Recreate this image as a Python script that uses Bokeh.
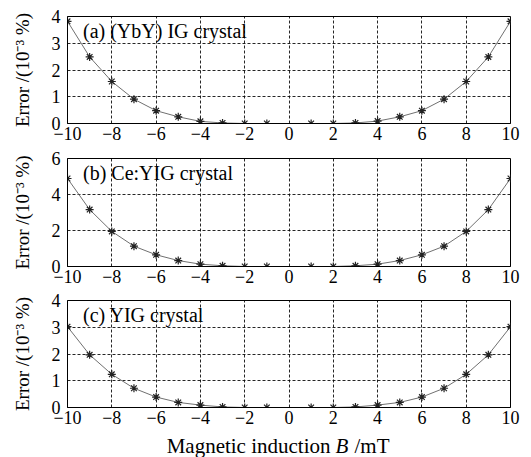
from bokeh.plotting import figure
from bokeh.layouts import column
from bokeh.models import FixedTicker
from bokeh.core.properties import value
from bokeh.embed import file_html
from bokeh.resources import INLINE

# ---- data ----
B_field = [-10, -9, -8, -7, -6, -5, -4, -3, -2, -1, 1, 2, 3, 4, 5, 6, 7, 8, 9, 10]
err_ybyig = [3.82, 2.49, 1.57, 0.91, 0.48, 0.25, 0.08, 0.02, 0.0, 0.0,
             0.0, 0.0, 0.02, 0.09, 0.25, 0.48, 0.91, 1.57, 2.49, 3.82]
err_ceyig = [4.89, 3.16, 1.95, 1.13, 0.65, 0.33, 0.13, 0.04, 0.0, 0.0,
             0.0, 0.0, 0.04, 0.13, 0.33, 0.65, 1.13, 1.95, 3.16, 4.89]
err_yig = [3.02, 1.97, 1.24, 0.72, 0.39, 0.19, 0.09, 0.02, 0.0, 0.0,
           0.0, 0.0, 0.02, 0.09, 0.19, 0.39, 0.72, 1.24, 1.97, 3.02]

x_ticks = [-10, -8, -6, -4, -2, 0, 2, 4, 6, 8, 10]
x_tick_labels = ["\u221210", "\u22128", "\u22126", "\u22124", "\u22122", "0", "2", "4", "6", "8", "10"]
panel_titles = ["(a) (YbY) IG crystal", "(b) Ce:YIG crystal", "(c) YIG crystal"]
y_maxes = [4, 6, 4]
y_ticks = [[0, 1, 2, 3, 4], [0, 2, 4, 6], [0, 1, 2, 3, 4]]
y_label = "Error /(10\u207b\u00b3 %)"
x_label_parts = ["Magnetic induction", "B", "/mT"]

FONT = "Liberation Serif"
series = [err_ybyig, err_ceyig, err_yig]

# layout parameters (height, top border, bottom border)
dims = [(147, 16, 24), (143, 11, 24), (144, 10, 27)]

figs = []
for i in range(3):
    h, bt, bb = dims[i]
    p = figure(width=531, height=h, output_backend="svg", toolbar_location=None,
               x_range=(-10, 10), y_range=(0, y_maxes[i]),
               min_border_left=67, min_border_right=21,
               min_border_top=bt, min_border_bottom=bb)
    p.background_fill_color = "white"
    p.border_fill_color = "white"
    p.outline_line_color = "black"
    p.outline_line_width = 1

    p.xaxis.ticker = FixedTicker(ticks=x_ticks)
    p.xaxis.major_label_overrides = {t: l for t, l in zip(x_ticks, x_tick_labels)}
    p.yaxis.ticker = FixedTicker(ticks=y_ticks[i])
    for ax in (p.xaxis, p.yaxis):
        ax.major_tick_line_color = None
        ax.minor_tick_line_color = None
        ax.major_tick_in = 0
        ax.major_tick_out = 0
        ax.axis_line_color = "black"
        ax.major_label_text_font = FONT
        ax.major_label_text_font_size = "18px"
        ax.major_label_text_color = "black"
    p.xaxis.major_label_standoff = 3
    p.yaxis.major_label_standoff = 7

    p.yaxis.axis_label = y_label
    p.yaxis.axis_label_text_font = FONT
    p.yaxis.axis_label_text_font_style = "normal"
    p.yaxis.axis_label_text_font_size = "19px"
    p.yaxis.axis_label_text_color = "black"
    p.yaxis.axis_label_standoff = 16

    for g in (p.xgrid, p.ygrid):
        g.grid_line_color = "black"
        g.grid_line_dash = "3 2"
        g.grid_line_width = 1
        g.grid_line_alpha = 0.85

    ys = series[i]
    p.line(B_field[:10], ys[:10], line_color="#707070", line_width=1)
    p.line(B_field[10:], ys[10:], line_color="#707070", line_width=1)
    p.scatter(B_field, ys, marker="asterisk", size=8, line_color="#222222", line_width=1.2)

    p.text(x=[-9.3], y=[y_maxes[i]], text=[panel_titles[i]], y_offset=3,
           text_font=value(FONT), text_font_size="20px", text_color="black",
           text_baseline="top", text_align="left")
    figs.append(p)

# x-axis title strip (with italic B)
t = figure(width=531, height=23, output_backend="svg", toolbar_location=None,
           x_range=(-10, 10), y_range=(0, 1),
           min_border_left=67, min_border_right=21, min_border_top=0, min_border_bottom=0)
t.axis.visible = False
t.grid.visible = False
t.outline_line_color = None
t.background_fill_color = "white"
t.border_fill_color = "white"
xl_x = 2.1
common = dict(y=[0.5], text_font=value(FONT), text_font_size="21px",
              text_color="black", text_baseline="middle")
t.text(x=[xl_x], x_offset=-5, text=[x_label_parts[0]], text_align="right", **common)
t.text(x=[xl_x], x_offset=0, text=[x_label_parts[1]], text_align="left",
       text_font_style="italic", **common)
t.text(x=[xl_x], x_offset=19, text=[x_label_parts[2]], text_align="left", **common)

layout = column(*figs, t, spacing=0)
open("out.html", "w").write(file_html(layout, INLINE))
